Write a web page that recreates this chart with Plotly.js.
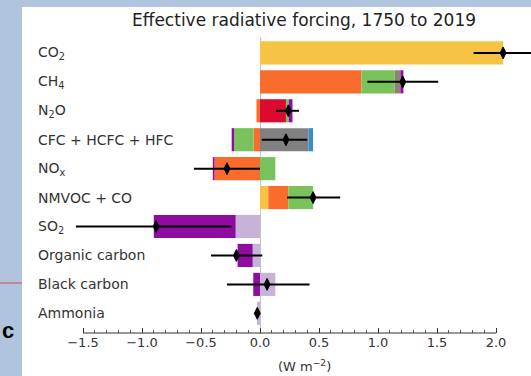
<!DOCTYPE html>
<html>
<head>
<meta charset="utf-8">
<script src="https://cdn.plot.ly/plotly-3.0.1.min.js"></script>
<style>
  html, body { margin: 0; padding: 0; background: #b0c4de; }
  #chart { width: 531px; height: 376px; }
</style>
</head>
<body>
<div id="chart"></div>
<script>
// ---- Data (W m-2) ----
const categories = ['CO2', 'CH4', 'N2O', 'CFC', 'NOx', 'NMVOC', 'SO2', 'OC', 'BC', 'NH3'];
const categoryLabels = ['CO<sub>2</sub>', 'CH<sub>4</sub>', 'N<sub>2</sub>O', 'CFC + HCFC + HFC',
  'NO<sub>x</sub>', 'NMVOC + CO', 'SO<sub>2</sub>', 'Organic carbon', 'Black carbon', 'Ammonia'];

const carbonDioxide   = [2.06, 0,    0,     0,      0,      0.07, 0,      0,      0,      0];
const methane         = [0,    0.86, -0.03, -0.055, -0.385, 0.17, 0,      0,      0,      0];
const nitrousOxide    = [0,    0,    0.22,  0,      0,      0,    0,      0,      0,      0];
const halocarbons     = [0,    0,    0,     0.41,   0,      0,    0,      0,      0,      0];
const ozone           = [0,    0.28, 0.025, -0.165, 0.13,   0.21, 0,      0,      0,      0];
const waterVapour     = [0,    0.05, 0,     0.04,   0,      0,    0,      0,      0,      0];
const aerosolCloud    = [0,    0,    0,     0,      0,      0,    -0.206, -0.062, 0.13,   -0.026];
const aerosolRadiation= [0,    0.025,0.03,  -0.02,  -0.015, 0,    -0.694, -0.128, -0.057, 0];

const totalForcing = [2.06, 1.21, 0.24, 0.22, -0.28, 0.45, -0.88, -0.20, 0.06, -0.023];
const lowerBound   = [1.81, 0.91, 0.135, 0.015, -0.56, 0.23, -1.56, -0.415, -0.28, -0.03];
const upperBound   = [2.32, 1.51, 0.33, 0.40, 0.0, 0.68, -0.24, 0.02, 0.42, -0.016];

// ---- Styles ----
const components = [
  {name: 'Carbon dioxide', values: carbonDioxide, color: '#f6c344'},
  {name: 'Methane', values: methane, color: '#fa6c2c'},
  {name: 'Nitrous oxide', values: nitrousOxide, color: '#db0a30'},
  {name: 'Halocarbons', values: halocarbons, color: '#808080'},
  {name: 'Ozone', values: ozone, color: '#79c25c'},
  {name: 'Stratospheric water vapour', values: waterVapour,
    color: categories.map(c => c === 'CFC' ? '#3c8dc4' : '#8a8470')},
  {name: 'Aerosol-cloud', values: aerosolCloud, color: '#c7b3d7'},
  {name: 'Aerosol-radiation', values: aerosolRadiation, color: '#900ca0'}
];

const traces = components.map(c => ({
  type: 'bar', orientation: 'h', name: c.name,
  x: c.values, y: categories,
  marker: {color: c.color, line: {width: 0}},
  hoverinfo: 'x+name'
}));

traces.push({
  type: 'scatter', mode: 'markers', name: 'Total',
  x: totalForcing, y: categories,
  marker: {symbol: 'diamond-tall', size: 8.5, color: '#000', line: {color: '#000', width: 1}},
  error_x: {
    type: 'data', symmetric: false,
    array: upperBound.map((u, i) => u - totalForcing[i]),
    arrayminus: lowerBound.map((l, i) => totalForcing[i] - l),
    color: '#000', thickness: 2, width: 0
  }
});

const L = 70, R = 0, T = 37, B = 43, W = 531, H = 376;
const pw = W - L - R, ph = H - T - B;
const px = v => (v - L) / pw;          // pixel x -> paper x
const py = v => (H - B - v) / ph;      // pixel y -> paper y

const minorVals = [];
for (let k = -15; k <= 20; k++) { if (k % 5 !== 0) minorVals.push(k / 10); }

const annotations = categoryLabels.map((t, i) => ({
  text: t, x: px(36), xref: 'paper', xanchor: 'left',
  y: categories[i], yref: 'y', yanchor: 'middle', showarrow: false,
  font: {family: 'DejaVu Sans', size: 14, color: '#333'}
}));
annotations.push({
  text: '(W m<sup>−2</sup>)', x: px(304), xref: 'paper', xanchor: 'center',
  y: py(366), yref: 'paper', yanchor: 'middle', showarrow: false,
  font: {family: 'DejaVu Sans', size: 13, color: '#333'}
});
annotations.push({
  text: '<b>c</b>', x: px(0), xref: 'paper', xanchor: 'left',
  y: py(330), yref: 'paper', yanchor: 'middle', showarrow: false,
  font: {family: 'Liberation Sans', size: 22, color: '#000'}
});

const layout = {
  width: W, height: H,
  margin: {l: L, r: R, t: T, b: B, pad: 0},
  paper_bgcolor: '#b0c4de', plot_bgcolor: '#ffffff',
  barmode: 'relative', bargap: 0.2,
  showlegend: false,
  title: {
    text: 'Effective radiative forcing, 1750 to 2019',
    x: 304 / W, xanchor: 'center', y: 1 - 20 / H, yanchor: 'middle',
    font: {family: 'DejaVu Sans', size: 17, color: '#222'}
  },
  xaxis: {
    range: [(L - 260) / 118, (W - R - 260) / 118],
    tick0: 0, dtick: 0.5, tickformat: '.1f',
    ticks: 'inside', ticklen: 5, tickwidth: 1, tickcolor: '#333',
    minor: {tickmode: 'array', tickvals: minorVals, ticks: 'inside', ticklen: 3, tickwidth: 1, tickcolor: '#555', showgrid: false},
    showgrid: false, showline: false,
    zeroline: true, zerolinecolor: '#c4c4c4', zerolinewidth: 1,
    tickfont: {family: 'DejaVu Sans', size: 13, color: '#333'}
  },
  yaxis: {
    type: 'category', categoryarray: categories, categoryorder: 'array',
    range: [9.68, -0.55],
    showticklabels: false, showgrid: false, zeroline: false, ticks: '', showline: false
  },
  shapes: [
    {type: 'rect', xref: 'paper', yref: 'paper', x0: px(22), x1: 1.05, y0: py(380), y1: py(7),
      fillcolor: '#ffffff', line: {width: 0}, layer: 'below'},
    {type: 'line', xref: 'paper', yref: 'paper', x0: px(-2), x1: px(22), y0: py(283), y1: py(283),
      line: {color: '#e0464e', width: 1}, layer: 'above'},
    {type: 'line', xref: 'x', yref: 'paper', x0: -1.5, x1: 2.0, y0: 0, y1: 0,
      line: {color: '#333', width: 1}, layer: 'above'}
  ],
  annotations: annotations
};

Plotly.newPlot('chart', traces, layout, {displayModeBar: false, staticPlot: true});
</script>
</body>
</html>
